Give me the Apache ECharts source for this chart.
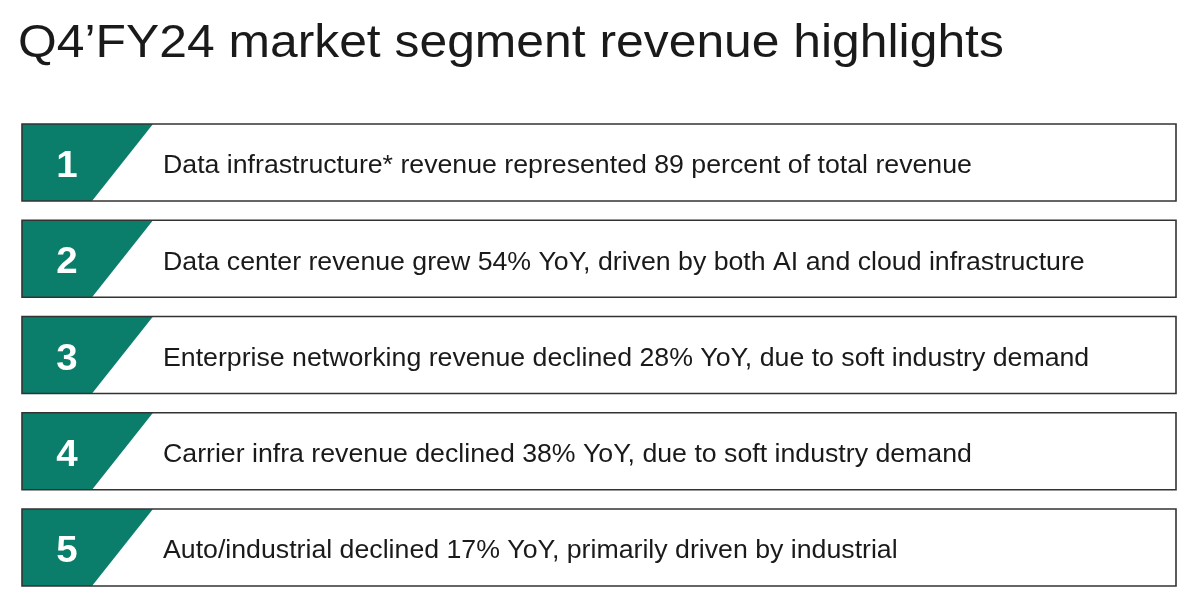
<!DOCTYPE html>
<html>
<head>
<meta charset="utf-8">
<script src="https://cdn.jsdelivr.net/npm/echarts@6/dist/echarts.min.js"></script>
<style>
html,body{margin:0;padding:0;background:#fff;}
#c{width:1200px;height:594px;}
</style>
</head>
<body>
<div id="c"></div>
<script>
var titleText = "Q4\u2019FY24 market segment revenue highlights";
var ranks = [1, 2, 3, 4, 5];
var highlights = [
  "Data infrastructure* revenue represented 89 percent of total revenue",
  "Data center revenue grew 54% YoY, driven by both AI and cloud infrastructure",
  "Enterprise networking revenue declined 28% YoY, due to soft industry demand",
  "Carrier infra revenue declined 38% YoY, due to soft industry demand",
  "Auto/industrial declined 17% YoY, primarily driven by industrial"
];

var GREEN = "#0A7E6B";
var FONT = "'Liberation Sans', Arial, Helvetica, sans-serif";

var chart = echarts.init(document.getElementById('c'), null, {renderer: 'canvas'});
var data = ranks.map(function (r, i) { return [0, i, r, highlights[i]]; });

chart.setOption({
  animation: false,
  backgroundColor: '#ffffff',
  graphic: [{
    type: 'text',
    x: 18, y: 44,
    scaleX: 1.06,
    style: { text: titleText, fill: '#1a1a1a', fontFamily: FONT, fontSize: 47,
             align: 'left', verticalAlign: 'middle' }
  }],
  grid: { left: 22, right: 24, top: 124, bottom: 8 },
  xAxis: { type: 'value', min: 0, max: 1, show: false },
  yAxis: { type: 'value', min: 0, max: 4.8, inverse: true, show: false },
  series: [{
    type: 'custom',
    data: data,
    renderItem: function (params, api) {
      var tl = api.coord([0, api.value(1)]);
      var br = api.coord([1, api.value(1) + 0.8]);
      var x0 = tl[0], y0 = tl[1], x1 = br[0], y1 = br[1];
      var h = y1 - y0;
      var cy = y0 + h / 2;
      return {
        type: 'group',
        children: [
          { type: 'rect', shape: { x: x0, y: y0, width: x1 - x0, height: h },
            style: { fill: '#ffffff', stroke: 'none' } },
          { type: 'polygon', shape: { points: [[x0, y0], [x0 + 131, y0], [x0 + 70, y1], [x0, y1]] },
            style: { fill: GREEN } },
          { type: 'rect', shape: { x: x0, y: y0, width: x1 - x0, height: h },
            style: { fill: 'none', stroke: '#333333', lineWidth: 1.6 } },
          { type: 'text', x: x0 + 45, y: cy + 4.5, scaleX: 1.04,
            style: { text: String(api.value(2)), fill: '#ffffff', fontFamily: FONT, fontSize: 37,
                     fontWeight: 'bold', align: 'center', verticalAlign: 'middle' } },
          { type: 'text', x: x0 + 141, y: cy + 4, scaleX: 1.068,
            style: { text: highlights[params.dataIndex], fill: '#1a1a1a', fontFamily: FONT, fontSize: 25,
                     align: 'left', verticalAlign: 'middle' } }
        ]
      };
    }
  }]
});
</script>
</body>
</html>
